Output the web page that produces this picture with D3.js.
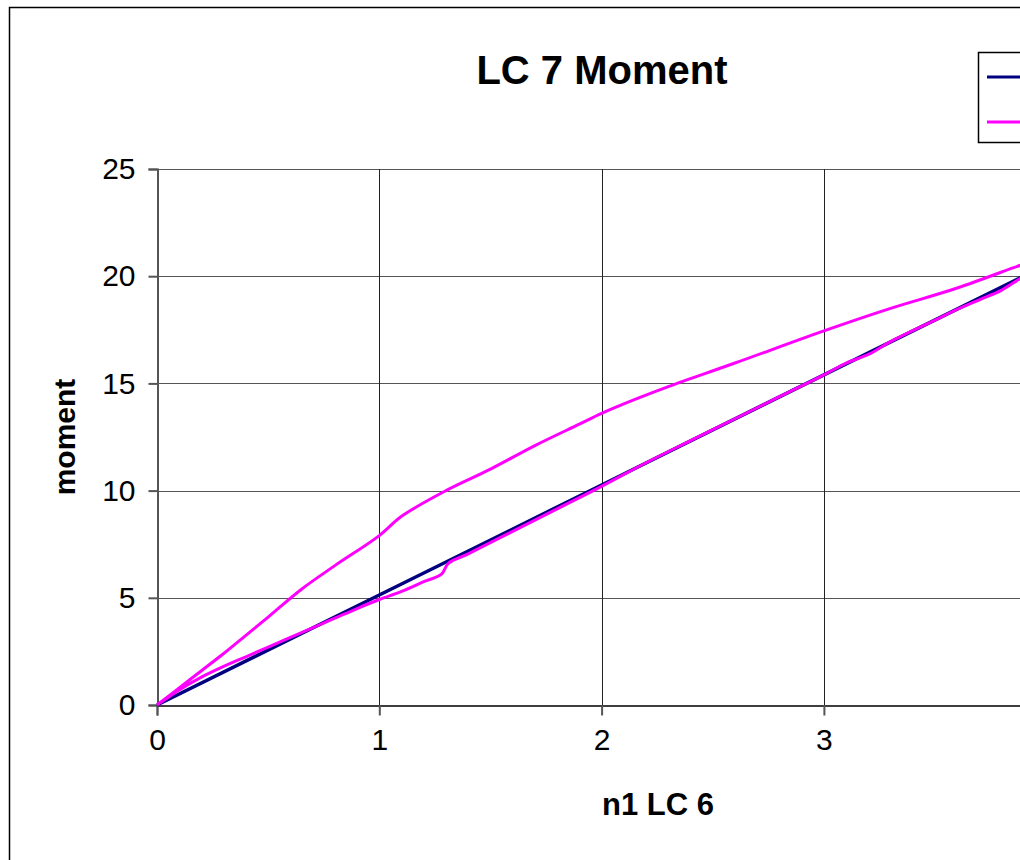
<!DOCTYPE html>
<html><head><meta charset="utf-8">
<script src="https://cdn.jsdelivr.net/npm/d3@7"></script>
<style>
html,body{margin:0;padding:0;background:#fff;overflow:hidden;}
svg{display:block;font-family:Arial,"Liberation Sans",sans-serif;}
</style></head>
<body>
<script>
// ---- data ----
const title = "LC 7 Moment";
const xTitle = "n1 LC 6";
const yTitle = "moment";
const xTicks = [0, 1, 2, 3];
const yTicks = [0, 5, 10, 15, 20, 25];
// series 1 (navy, linear reference)
const navyX = [0, 1, 2, 3, 4, 4.05];
const navyY = [0, 5.13, 10.26, 15.4, 20.52, 20.78];
// series 2 (magenta, loading branch then unloading branch)
const magX = [0, 0.05, 0.1, 0.2, 0.3, 0.4, 0.5, 0.6, 0.7, 0.8, 0.9, 1.0, 1.1, 1.2, 1.28, 1.31, 1.4, 1.6, 1.8, 2.0, 2.2, 2.4, 2.6, 2.8, 3.0, 3.1, 3.2, 3.3, 3.5, 3.6, 3.7, 3.8, 3.9, 4.0, 4.05,
              3.95, 3.88, 3.6, 3.3, 3.0, 2.6, 2.3, 2.15, 2.0, 1.9, 1.7, 1.5, 1.3, 1.1, 1.0, 0.8, 0.65, 0.5, 0.4, 0.3, 0.2, 0.1, 0];
const magY = [0, 0.35, 0.7, 1.3, 1.8, 2.25, 2.7, 3.15, 3.6, 4.05, 4.5, 4.92, 5.3, 5.75, 6.1, 6.6, 7.05, 8.1, 9.15, 10.2, 11.3, 12.33, 13.35, 14.38, 15.4, 15.95, 16.35, 16.95, 17.95, 18.45, 18.9, 19.35, 20.0, 20.5, 20.8,
              20.75, 20.5, 19.45, 18.5, 17.45, 15.95, 14.85, 14.25, 13.6, 13.1, 12.1, 11.0, 10.0, 8.8, 7.9, 6.5, 5.4, 4.1, 3.25, 2.4, 1.6, 0.8, 0];

// ---- layout ----
const W = 1020, H = 860;
const svg = d3.select("body").append("svg").attr("width", W).attr("height", H);

const x = d3.scaleLinear().domain([0, 4.5]).range([157, 157 + 4.5 * 222.3]);
const y = d3.scaleLinear().domain([0, 25]).range([705, 169]);

// chart area border
svg.append("rect").attr("x", 9.5).attr("y", 7.5).attr("width", 1200).attr("height", 1000)
  .attr("fill", "#fff").attr("stroke", "#000").attr("stroke-width", 1.5);

// gridlines
const grid = svg.append("g");
grid.selectAll("line.h").data(yTicks.filter(d => d > 0)).join("line")
  .attr("x1", x(0)).attr("x2", x(4.5))
  .attr("y1", d => Math.round(y(d)) + 0.5).attr("y2", d => Math.round(y(d)) + 0.5)
  .attr("stroke", "#555").attr("stroke-width", 1);
grid.selectAll("line.v").data([1, 2, 3, 4]).join("line")
  .attr("x1", d => Math.round(x(d)) + 0.5).attr("x2", d => Math.round(x(d)) + 0.5)
  .attr("y1", y(25)).attr("y2", y(0))
  .attr("stroke", "#222").attr("stroke-width", 1);

// axes
const yAxis = d3.axisLeft(y).tickValues(yTicks).tickSize(9).tickPadding(13);
const gy = svg.append("g").attr("transform", `translate(${Math.round(x(0)) + 0.5},0)`).call(yAxis);
gy.select(".domain").attr("stroke", "#555").attr("stroke-width", 2);
gy.selectAll(".tick line").attr("stroke", "#555").attr("stroke-width", 2);
gy.selectAll("text").attr("font-size", 30).attr("fill", "#000")
  .attr("font-family", "Arial, 'Liberation Sans', sans-serif");

const xAxis = d3.axisBottom(x).tickValues(xTicks).tickSize(10).tickPadding(13).tickFormat(d3.format("d"));
const gx = svg.append("g").attr("transform", `translate(0,${Math.round(y(0)) + 0.5})`).call(xAxis);
gx.select(".domain").attr("stroke", "#000").attr("stroke-width", 1.5);
gx.selectAll(".tick line").attr("stroke", "#555").attr("stroke-width", 2);
gx.selectAll("text").attr("font-size", 30).attr("fill", "#000")
  .attr("font-family", "Arial, 'Liberation Sans', sans-serif");

// series
const line = d3.line().x(d => x(d[0])).y(d => y(d[1])).curve(d3.curveCatmullRom.alpha(0.5));
const navy = navyX.map((v, i) => [v, navyY[i]]);
const mag = magX.map((v, i) => [v, magY[i]]);
svg.append("path").datum(navy).attr("d", d3.line().x(d => x(d[0])).y(d => y(d[1]))).attr("fill", "none")
  .attr("stroke", "#000080").attr("stroke-width", 3.5);
svg.append("path").datum(mag).attr("d", line).attr("fill", "none")
  .attr("stroke", "#FF00FF").attr("stroke-width", 3).attr("stroke-linejoin", "round");

// titles
svg.append("text").attr("x", 602).attr("y", 84).attr("text-anchor", "middle")
  .attr("font-size", 40).attr("font-weight", "bold").text(title);
svg.append("text").attr("x", 658).attr("y", 815).attr("text-anchor", "middle")
  .attr("font-size", 31).attr("font-weight", "bold").text(xTitle);
svg.append("text").attr("transform", "translate(75,437) rotate(-90)").attr("text-anchor", "middle")
  .attr("font-size", 30).attr("font-weight", "bold").text(yTitle);

// legend (partially visible)
const lg = svg.append("g");
lg.append("rect").attr("x", 978.5).attr("y", 52.5).attr("width", 200).attr("height", 90)
  .attr("fill", "#fff").attr("stroke", "#000").attr("stroke-width", 1.5);
lg.append("line").attr("x1", 987).attr("x2", 1040).attr("y1", 77).attr("y2", 77)
  .attr("stroke", "#000080").attr("stroke-width", 3);
lg.append("line").attr("x1", 987).attr("x2", 1040).attr("y1", 122).attr("y2", 122)
  .attr("stroke", "#FF00FF").attr("stroke-width", 3);
</script>
</body></html>
